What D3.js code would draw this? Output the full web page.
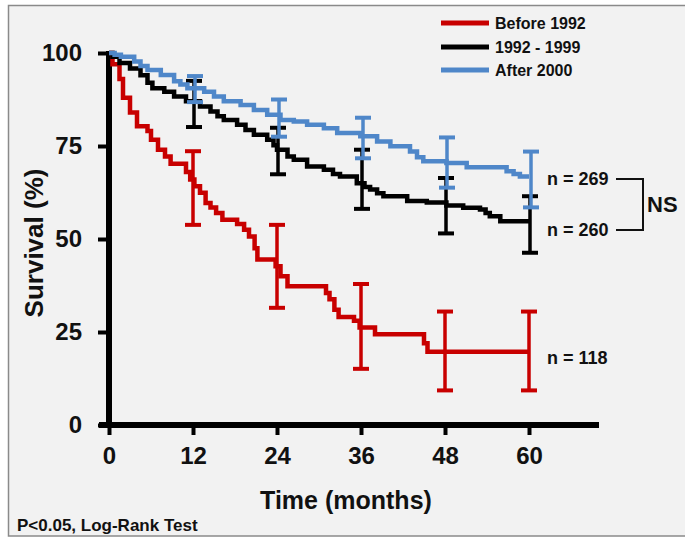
<!DOCTYPE html>
<html>
<head>
<meta charset="utf-8">
<script src="https://d3js.org/d3.v7.min.js"></script>
<style>
  body { margin: 0; background: #fff; }
  text { font-family: "Liberation Sans", Arial, sans-serif; font-weight: bold; fill: #111; }
</style>
</head>
<body>
<svg width="685" height="539"></svg>
<script>
// survival curves, [month, percent]
var before1992 = [[0,100],[0.5,97],[1.5,93],[2,88],[3,84],[4,80.3],[5.5,79],[6,76.7],[7,74],[8,72.2],[8.8,70.2],[11,68],[11.6,66],[12.2,64.2],[13,62.4],[13.8,59.7],[14.5,58.5],[15.3,57],[16.2,55.2],[18.3,54],[19.3,52.5],[20,50.7],[20.8,47.5],[21.2,44.5],[23.8,42.7],[24.5,40],[25.5,37.3],[31,35.5],[31.5,33.8],[32.2,31],[32.8,29],[35,28],[35.8,26.2],[38,24.4],[45,22],[45.5,19.7],[60,19.7]];
var y1992to1999 = [[0,100],[0.5,99],[1.5,97.3],[3,95.8],[4.5,94],[5.5,92],[6.2,90.5],[7.9,89.6],[9.3,88.3],[11,87],[13,85.6],[14.5,84.3],[15.5,83],[16.4,82],[18.3,80.7],[19.5,79.3],[20.7,78],[22.6,76.7],[23.5,75.2],[24,74],[25.5,72.2],[26.4,71.3],[28.3,69.5],[30.7,68.6],[32,67.5],[33,66.8],[35.4,65],[36.5,64],[37.3,63.3],[38.3,62.3],[39.2,61.5],[42.6,60.2],[45.4,59.8],[48.2,59],[50.6,58.4],[53,57.9],[53.8,57],[54.4,56.1],[55.9,54.8],[60,54.8]];
var after2000 = [[0,100],[0.8,99.5],[1.7,99],[3.6,97.7],[4.5,96.5],[5.5,95.4],[7.4,94.1],[9.3,92.4],[10.2,91.5],[11.2,90.5],[13.6,89.6],[15,88.3],[16.4,87],[18.8,86],[20.7,84.7],[22.6,83.4],[24.5,82],[26.4,81.6],[28.3,80.7],[30.7,79.8],[32.6,78.5],[35.9,77.6],[38.3,76.2],[40.2,74.9],[43,73.5],[44,72],[44.9,70.9],[48.2,70.4],[51.1,69.3],[56.8,68.2],[57.8,67.5],[58.7,66.8],[60,66.8]];

// error bars at fixed months
var barMonths = [12, 24, 36, 48, 60];
var redLo = [53.8, 31.5, 15.1, 9.3, 9.3],   redHi = [73.6, 53.8, 37.9, 30.5, 30.5];
var blackLo = [80.1, 67.4, 58.1, 51.5, 46.3], blackHi = [92.5, 79.9, 74, 66.4, 61.5];
var blueLo = [86.8, 77.5, 71.7, 63.8, 58.5],  blueHi = [93.8, 87.5, 82.6, 77.3, 73.5];

var seriesNames = ["Before 1992", "1992 - 1999", "After 2000"];
var nLabels = ["n = 118", "n = 260", "n = 269"];
var xTicks = [0, 12, 24, 36, 48, 60];
var yTicks = [0, 25, 50, 75, 100];

var colors = ["#c80000", "#000000", "#4f87c9"];

var svg = d3.select("svg");

// frame
svg.append("rect").attr("x", 8.5).attr("y", 5.5).attr("width", 690).attr("height", 530.5)
   .attr("fill", "#f2f2f2").attr("stroke", "#8a8a8a").attr("stroke-width", 1.5);

var x = d3.scaleLinear().domain([0, 60]).range([109, 529]);
var y = d3.scaleLinear().domain([0, 100]).range([425, 53]);

// axes
var xAxis = svg.append("g").attr("transform", "translate(0," + y(0) + ")")
   .call(d3.axisBottom(x).tickValues(xTicks).tickSize(10).tickPadding(12).tickSizeOuter(0));
xAxis.select(".domain").attr("d", "M99,0H599").attr("stroke", "#000").attr("stroke-width", 6);
xAxis.selectAll(".tick line").attr("stroke", "#000").attr("stroke-width", 4);
xAxis.selectAll(".tick text").attr("font-size", 24).attr("fill", "#111")
   .attr("font-family", "Liberation Sans, Arial").attr("font-weight", "bold");

var yAxis = svg.append("g").attr("transform", "translate(" + x(0) + ",0)")
   .call(d3.axisLeft(y).tickValues(yTicks).tickSize(11).tickPadding(16).tickSizeOuter(0));
yAxis.select(".domain").attr("d", "M0,51V" + (y(0) + 3)).attr("stroke", "#000").attr("stroke-width", 6);
yAxis.selectAll(".tick line").attr("stroke", "#000").attr("stroke-width", 4);
yAxis.selectAll(".tick text").attr("font-size", 24).attr("fill", "#111")
   .attr("font-family", "Liberation Sans, Arial").attr("font-weight", "bold");

svg.append("text").attr("x", 346).attr("y", 509).attr("text-anchor", "middle")
   .attr("font-size", 25).text("Time (months)");
svg.append("text").attr("transform", "translate(43,243) rotate(-90)").attr("text-anchor", "middle")
   .attr("font-size", 26).text("Survival (%)");

// curves + error bars
var line = d3.line().x(function(d) { return x(d[0]); }).y(function(d) { return y(d[1]); })
   .curve(d3.curveStepAfter);

var curves = [before1992, y1992to1999, after2000];
var los = [redLo, blackLo, blueLo], his = [redHi, blackHi, blueHi];
var offs = [0, 1, 2];

curves.forEach(function(c, i) {
  svg.append("path").attr("d", line(c)).attr("fill", "none")
     .attr("stroke", colors[i]).attr("stroke-width", 4.5);
  var g = svg.append("g").attr("stroke", colors[i]);
  barMonths.forEach(function(m, j) {
    var bx = x(m) + offs[i];
    g.append("line").attr("x1", bx).attr("x2", bx).attr("y1", y(his[i][j])).attr("y2", y(los[i][j]))
     .attr("stroke-width", 3.5);
    [his[i][j], los[i][j]].forEach(function(v) {
      g.append("line").attr("x1", bx - 8).attr("x2", bx + 8).attr("y1", y(v)).attr("y2", y(v))
       .attr("stroke-width", 4);
    });
  });
});

// legend
seriesNames.forEach(function(s, i) {
  var ly = [23, 47, 70][i];
  svg.append("line").attr("x1", 441).attr("x2", 489).attr("y1", ly).attr("y2", ly)
     .attr("stroke", colors[i]).attr("stroke-width", 5);
  svg.append("text").attr("x", 495).attr("y", ly + 6).attr("font-size", 16).text(s);
});

// n labels
var nY = [358, 230, 179];
nLabels.forEach(function(t, i) {
  svg.append("text").attr("x", 547).attr("y", nY[i] + 6).attr("font-size", 18).text(t);
});
svg.append("path").attr("d", "M616,179H643V230H616").attr("fill", "none")
   .attr("stroke", "#111").attr("stroke-width", 2);
svg.append("text").attr("x", 647).attr("y", 212).attr("font-size", 22).text("NS");

svg.append("text").attr("x", 17).attr("y", 531).attr("font-size", 17).text("P<0.05, Log-Rank Test");
</script>
</body>
</html>
